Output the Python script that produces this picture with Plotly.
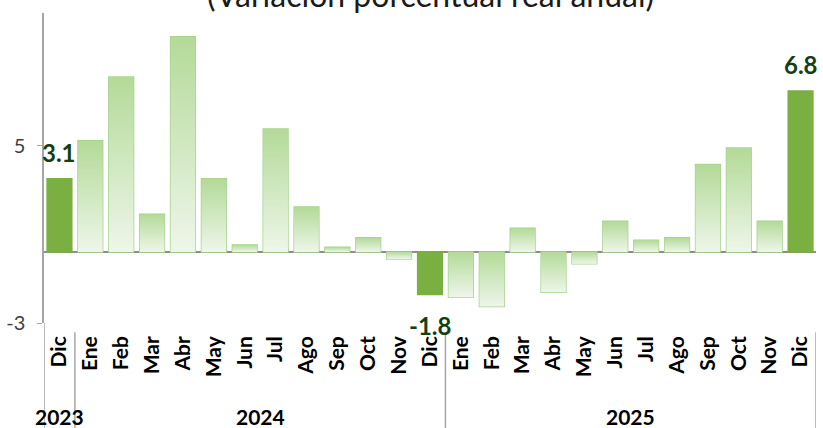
import plotly.graph_objects as go

# ---- data ----
months = ["Dic", "Ene", "Feb", "Mar", "Abr", "May", "Jun", "Jul", "Ago", "Sep", "Oct", "Nov", "Dic",
          "Ene", "Feb", "Mar", "Abr", "May", "Jun", "Jul", "Ago", "Sep", "Oct", "Nov", "Dic"]
values = [3.1, 4.7, 7.4, 1.6, 9.1, 3.1, 0.3, 5.2, 1.9, 0.2, 0.6, -0.3, -1.8,
          -1.9, -2.3, 1.0, -1.7, -0.5, 1.3, 0.5, 0.6, 3.7, 4.4, 1.3, 6.8]
highlight_idx = [0, 12, 24]
years = ["2023", "2024", "2025"]
year_spans = [(0, 0), (1, 12), (13, 24)]
ytick_vals = [-3, 4.5]
ytick_text = ["-3", "5"]
title_text = "(Variación porcentual real anual)"

FONT = "Century Gothic, Lato, sans-serif"
HL = "#7AAF42"
LIGHT_LINE = "#A6D38C"
GRAD_TOP = "#B3DA98"
GRAD_BOT = "#EEF6EA"
LABEL_COL = "#143F12"
BAR_W = 0.8

x_idx = list(range(len(values)))

fig = go.Figure()

# gradient fills for non-highlighted bars (polygons derived from data values)
for i, v in enumerate(values):
    if i in highlight_idx:
        continue
    x0, x1 = i - BAR_W / 2, i + BAR_W / 2
    fig.add_trace(go.Scatter(
        x=[x0, x1, x1, x0, x0], y=[0, 0, v, v, 0],
        mode="lines", line=dict(width=0), fill="toself",
        fillgradient=dict(type="vertical", colorscale=[[0, GRAD_BOT], [1, GRAD_TOP]]),
        hoverinfo="skip", showlegend=False,
    ))

# real bars: outline for regular, solid for highlighted
fig.add_trace(go.Bar(
    x=x_idx, y=values, width=BAR_W,
    marker=dict(
        color=[HL if i in highlight_idx else "rgba(0,0,0,0)" for i in x_idx],
        line=dict(color=[HL if i in highlight_idx else LIGHT_LINE for i in x_idx], width=1.5),
    ),
    showlegend=False,
))

# data labels for highlighted bars
for i in highlight_idx:
    v = values[i]
    fig.add_annotation(
        x=i, y=v, xref="x", yref="y",
        text=f"<b>{v:.1f}</b>", showarrow=False,
        font=dict(family=FONT, size=24, color=LABEL_COL),
        yanchor="bottom" if v >= 0 else "top",
        yshift=10 if v >= 0 else -14,
    )

# year labels
for yr, (a, b) in zip(years, year_spans):
    fig.add_annotation(
        x=(a + b) / 2, y=-0.30, xref="x", yref="paper",
        text=f"<b>{yr}</b>", showarrow=False,
        font=dict(family=FONT, size=21, color="#000000"),
        yanchor="middle",
    )

# category separators below the axis
LINE_GRAY = "#A6A6A6"
fig.add_shape(type="line", xref="x", yref="paper", x0=-0.5, x1=-0.5, y0=0, y1=-0.34,
              line=dict(color=LINE_GRAY, width=1.5))
for a, b in year_spans:
    fig.add_shape(type="line", xref="x", yref="paper", x0=b + 0.5, x1=b + 0.5, y0=-0.03, y1=-0.34,
                  line=dict(color=LINE_GRAY, width=1.5))

# title (partially cut off at top)
fig.add_annotation(
    x=0.5, y=1, xref="paper", yref="paper", xanchor="center", yanchor="bottom",
    text=title_text, showarrow=False, yshift=-3,
    font=dict(family=FONT, size=32, color="#1a1a1a"),
)

fig.update_layout(
    width=823, height=428,
    margin=dict(l=44, r=7, t=13, b=105, autoexpand=False),
    paper_bgcolor="white", plot_bgcolor="white",
    bargap=0.2,
    xaxis=dict(
        range=[-0.5, 24.5], tickmode="array", tickvals=x_idx,
        ticktext=[f"<b>{m}</b>" for m in months],
        tickangle=-90, showgrid=False, zeroline=False, showline=False, ticks="",
        tickfont=dict(family=FONT, size=21, color="#000000"),
        ticklabelstandoff=8, automargin=False,
    ),
    yaxis=dict(
        range=[-3, 10.1], tickmode="array", tickvals=ytick_vals, ticktext=ytick_text,
        showgrid=False, zeroline=True, zerolinecolor="#8C8C8C", zerolinewidth=1.5,
        showline=True, linecolor=LINE_GRAY, linewidth=1.5,
        ticks="outside", ticklen=5, tickcolor=LINE_GRAY, tickwidth=1,
        tickfont=dict(family=FONT, size=20, color="#404040"),
        ticklabelstandoff=8, automargin=False,
    ),
)

fig.write_html("out.html", config={"displayModeBar": False},
               post_script="document.body.style.margin='0';")
